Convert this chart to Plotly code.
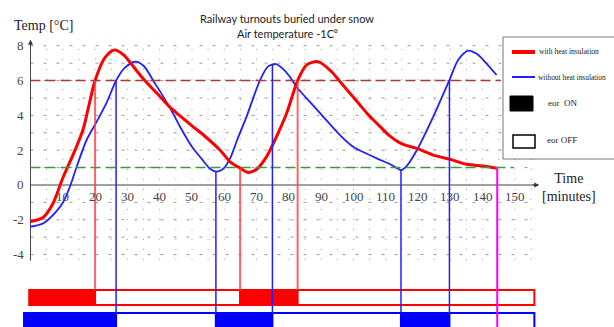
import plotly.graph_objects as go

# ---------------- data ----------------
red_t = [0, 4, 7, 10, 13.8, 16.3, 18, 20, 23, 26, 29, 31, 35.4, 39, 43, 46.3, 50, 54,
         58.7, 62, 64.9, 67.4, 70, 73, 75.2, 79.3, 82.7, 85.5, 89, 93, 96, 99, 102,
         105, 108, 111, 115, 119.6, 124.7, 130, 135, 140, 144.5]
red_v = [-2.1, -1.85, -1.05, 0.4, 2.0, 3.2, 4.5, 6.0, 7.3, 7.76, 7.45, 7.0, 6.0, 5.3, 4.5,
         3.97, 3.4, 2.8, 2.0, 1.3, 0.97, 0.72, 0.9, 1.6, 2.4, 4.12, 6.0, 6.9, 7.09,
         6.55, 5.9, 5.25, 4.6, 3.95, 3.4, 2.85, 2.36, 2.1, 1.72, 1.47, 1.19, 1.09, 0.96]

blue_t = [0, 4, 7.6, 10.2, 12.2, 14.3, 17.4, 20.5, 23.5, 26.5, 29, 32.4, 35, 38.5, 43,
          46.3, 50, 53, 55.5, 57.5, 59.5, 61.8, 64, 66.9, 71, 73.5, 76, 78, 80.3, 82.5,
          85.5, 90.6, 95.8, 99.9, 103.5, 107.2, 111.8, 114.7, 116.5, 119.6, 124.7,
          129.7, 132.4, 135.5, 138, 140.2, 144.3]
blue_v = [-2.4, -2.2, -1.6, -0.96, -0.1, 1.05, 2.6, 3.64, 4.7, 6.0, 6.7, 7.09, 6.85,
          5.85, 4.5, 3.35, 2.2, 1.5, 0.95, 0.77, 0.9, 1.53, 2.6, 3.93, 6.0, 6.8, 6.95,
          6.7, 6.22, 5.6, 4.98, 3.93, 2.87, 2.2, 1.85, 1.53, 1.15, 0.86, 1.1, 2.0,
          3.93, 6.03, 7.18, 7.72, 7.55, 7.18, 6.32]

upper_threshold = 6.0
lower_threshold = 1.0

red_mark_t = [20.0, 64.9, 82.7]
red_mark_v = [6.0, 0.97, 6.0]
blue_mark_t = [26.5, 57.4, 74.9, 114.7, 129.7]
blue_mark_v = [6.0, 0.78, 6.95, 0.86, 6.03]
end_mark_t = 144.5
end_mark_v = 0.96

red_bar_edges = [-0.4, 20.0, 64.9, 82.7, 156.0]
red_bar_states = ["ON", "OFF", "ON", "OFF"]
blue_bar_edges = [-2.0, 26.5, 57.4, 74.9, 114.7, 129.7, 156.0]
blue_bar_states = ["ON", "OFF", "ON", "OFF", "ON", "OFF"]

x_ticks = [10, 20, 30, 40, 50, 60, 70, 80, 90, 100, 110, 120, 130, 140, 150]
y_ticks = [8, 6, 4, 2, 0, -2, -4]

title_lines = ["Railway turnouts buried under snow", "Air temperature -1C⁰"]

# ---------------- layout helpers ----------------
W, H = 614, 327
X_RANGE = [-9.44, 180.65]
Y_RANGE = [-8.16, 10.63]


def px(x):
    return x / W


def py(y):
    return 1 - y / H


SERIF = "Liberation Serif"
RED = "#ff0000"
BLUE = "#2020ff"

fig = go.Figure()
shapes = []
annotations = []

# grid
for gx in range(5, 160, 5):
    shapes.append(dict(type="line", xref="x", yref="y", x0=gx, x1=gx, y0=-4.3, y1=8.35,
                       line=dict(color="#999", width=1, dash="1px,9px"), layer="below"))
for gy in range(-4, 9):
    shapes.append(dict(type="line", xref="x", yref="y", x0=0, x1=155, y0=gy, y1=gy,
                       line=dict(color="#999", width=1, dash="3px,10px"), layer="below"))

# axes
shapes.append(dict(type="line", xref="x", yref="y", x0=0, x1=156.5, y0=0, y1=0,
                   line=dict(color="#a0a0a0", width=2), layer="below"))
shapes.append(dict(type="line", xref="x", yref="y", x0=0, x1=0, y0=-4.35, y1=8.3,
                   line=dict(color="#444", width=1), layer="below"))
annotations.append(dict(x=0, y=8.35, xref="x", yref="y", ax=0, ay=8, text="",
                        showarrow=True, arrowhead=2, arrowsize=1, arrowwidth=1,
                        arrowcolor="#333"))
annotations.append(dict(x=157.5, y=0, xref="x", yref="y", ax=-8, ay=0, text="",
                        showarrow=True, arrowhead=2, arrowsize=1, arrowwidth=1,
                        arrowcolor="#333"))

# thresholds
shapes.append(dict(type="line", xref="x", yref="y", x0=0, x1=145.5, y0=upper_threshold,
                   y1=upper_threshold, line=dict(color="#a83a3a", width=1.5, dash="10px,5px")))
shapes.append(dict(type="line", xref="x", yref="y", x0=0, x1=149.5, y0=lower_threshold,
                   y1=lower_threshold, line=dict(color="#3c9a3c", width=1.5, dash="10px,5px")))

# state bars
RED_BAR = (-6.9, -6.03)
BLUE_BAR = (-8.4, -7.36)
for i, st in enumerate(red_bar_states):
    on = st == "ON"
    shapes.append(dict(type="rect", xref="x", yref="y", x0=red_bar_edges[i],
                       x1=red_bar_edges[i + 1], y0=RED_BAR[0], y1=RED_BAR[1],
                       fillcolor=RED if on else "white", line=dict(color=RED, width=2)))
for i, st in enumerate(blue_bar_states):
    on = st == "ON"
    shapes.append(dict(type="rect", xref="x", yref="y", x0=blue_bar_edges[i],
                       x1=blue_bar_edges[i + 1], y0=BLUE_BAR[0], y1=BLUE_BAR[1],
                       fillcolor="#0000ff" if on else "white", line=dict(color="#0000ff", width=2)))

# vertical switch markers
for t, v in zip(red_mark_t, red_mark_v):
    shapes.append(dict(type="line", xref="x", yref="y", x0=t, x1=t, y0=RED_BAR[1], y1=v,
                       line=dict(color="rgba(255,60,60,0.8)", width=2)))
for t, v in zip(blue_mark_t, blue_mark_v):
    shapes.append(dict(type="line", xref="x", yref="y", x0=t, x1=t, y0=BLUE_BAR[1], y1=v,
                       line=dict(color=BLUE, width=1.5)))
shapes.append(dict(type="line", xref="x", yref="y", x0=end_mark_t, x1=end_mark_t,
                   y0=Y_RANGE[0] - 1, y1=end_mark_v, line=dict(color="#ff00ff", width=2)))

# curves
fig.add_trace(go.Scatter(x=blue_t, y=blue_v, mode="lines", line=dict(color=BLUE, width=1.8, shape="spline", smoothing=0.8),
                         name="without heat insulation", showlegend=False))
fig.add_trace(go.Scatter(x=red_t, y=red_v, mode="lines", line=dict(color=RED, width=3, shape="spline", smoothing=0.8),
                         name="with heat insulation", showlegend=False))

# tick labels
for t in x_ticks:
    annotations.append(dict(x=t, y=-0.65, xref="x", yref="y", text=str(t), showarrow=False,
                            font=dict(family=SERIF, size=13, color="#444"), xanchor="center",
                            yanchor="middle"))
for v in y_ticks:
    annotations.append(dict(x=-1.4, y=v, xref="x", yref="y", text=str(v), showarrow=False,
                            font=dict(family=SERIF, size=13, color="#444"), xanchor="right",
                            yanchor="middle"))

# axis titles
annotations.append(dict(x=px(12), y=py(25), xref="paper", yref="paper", text="Temp [°C]",
                        showarrow=False, font=dict(family=SERIF, size=14, color="#222"),
                        xanchor="left", yanchor="middle"))
annotations.append(dict(x=px(569), y=py(187), xref="paper", yref="paper", text="Time<br>[minutes]",
                        showarrow=False, font=dict(family=SERIF, size=14, color="#222"),
                        xanchor="center", yanchor="middle", align="center"))

# title
annotations.append(dict(x=px(287), y=py(18), xref="paper", yref="paper", text=title_lines[0],
                        showarrow=False, font=dict(family="Lato", size=11, color="#222"),
                        xanchor="center", yanchor="middle"))
annotations.append(dict(x=px(287), y=py(33), xref="paper", yref="paper", text=title_lines[1],
                        showarrow=False, font=dict(family="Lato", size=11, color="#222"),
                        xanchor="center", yanchor="middle"))

# legend box
shapes.append(dict(type="rect", xref="paper", yref="paper", x0=px(503), x1=px(640),
                   y0=py(159), y1=py(37), line=dict(color="#777", width=1), fillcolor="white"))
shapes.append(dict(type="line", xref="paper", yref="paper", x0=px(512), x1=px(535),
                   y0=py(52), y1=py(52), line=dict(color=RED, width=4)))
shapes.append(dict(type="line", xref="paper", yref="paper", x0=px(512), x1=px(535),
                   y0=py(77), y1=py(77), line=dict(color=BLUE, width=2)))
shapes.append(dict(type="rect", xref="paper", yref="paper", x0=px(510), x1=px(533),
                   y0=py(111), y1=py(96), line=dict(color="black", width=1), fillcolor="black"))
shapes.append(dict(type="rect", xref="paper", yref="paper", x0=px(513), x1=px(535),
                   y0=py(148), y1=py(135), line=dict(color="black", width=1.5), fillcolor="white"))
for txt, x, y, s in [("with heat insulation", 537, 52, 7.6), ("without heat insulation", 536, 77, 7.4),
                     ("eor  ON", 546, 103, 9), ("eor OFF", 545, 140, 9)]:
    annotations.append(dict(x=px(x), y=py(y), xref="paper", yref="paper", text=txt,
                            showarrow=False, font=dict(family=SERIF, size=s, color="#222"),
                            xanchor="left", yanchor="middle"))

fig.update_layout(
    width=W, height=H,
    margin=dict(l=0, r=0, t=0, b=0, autoexpand=False),
    paper_bgcolor="white", plot_bgcolor="white",
    showlegend=False,
    xaxis=dict(range=X_RANGE, visible=False, fixedrange=True),
    yaxis=dict(range=Y_RANGE, visible=False, fixedrange=True),
    shapes=shapes,
    annotations=annotations,
)

fig.write_html("out.html", config={"displayModeBar": False},
               post_script="document.body.style.margin='0';document.body.style.overflow='hidden';")
